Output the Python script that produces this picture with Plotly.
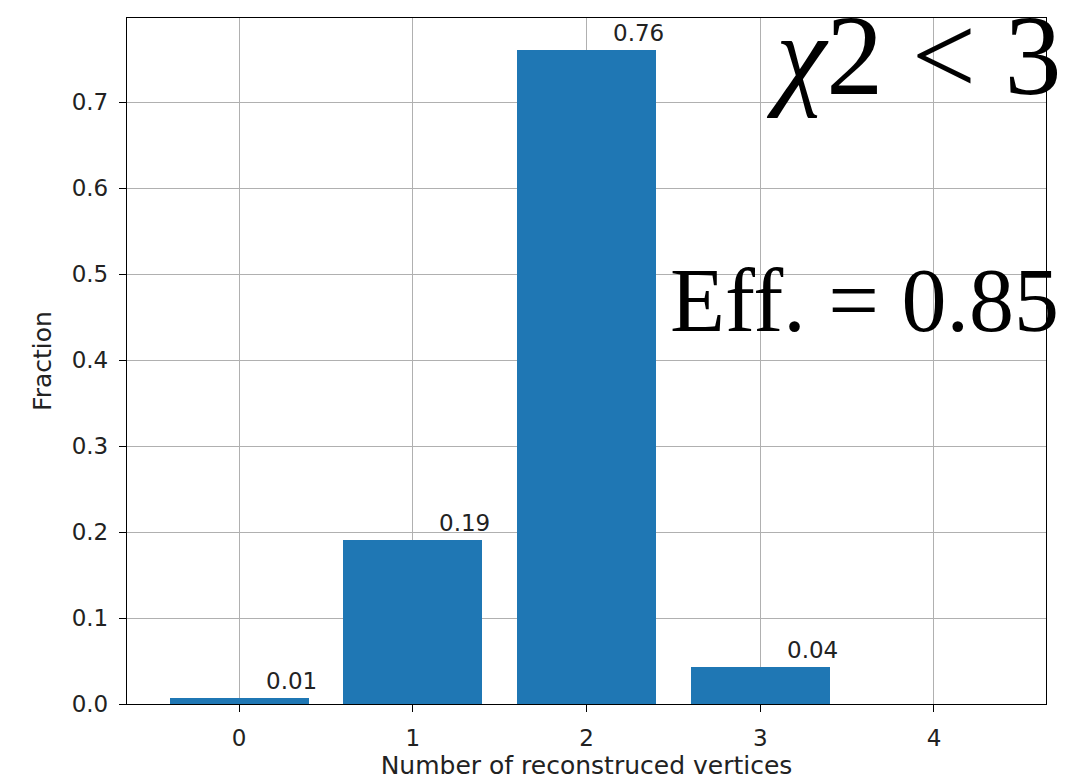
import plotly.graph_objects as go

categories = [0, 1, 2, 3, 4]
fractions = [0.007, 0.191, 0.761, 0.043, 0.0]
labels = ["0.01", "0.19", "0.76", "0.04", ""]
yticks = [0.0, 0.1, 0.2, 0.3, 0.4, 0.5, 0.6, 0.7]

fig = go.Figure()
fig.add_trace(go.Bar(x=categories, y=fractions, width=0.8,
                     marker=dict(color="#1f77b4", line=dict(width=0)),
                     showlegend=False))

for c, v, t in zip(categories, fractions, labels):
    if t:
        fig.add_annotation(x=c + 0.3, y=v + 0.002, text=t, showarrow=False,
                           xanchor="center", yanchor="bottom",
                           font=dict(family="DejaVu Sans", size=23, color="#222"))

fig.add_annotation(xref="paper", yref="paper", x=1.018, y=0.945,
                   text="<i>χ</i>2 &lt; 3", showarrow=False,
                   xanchor="right", yanchor="middle",
                   font=dict(family="Liberation Serif", size=114, color="black"))
fig.add_annotation(xref="paper", yref="paper", x=1.016, y=0.588,
                   text="Eff. = 0.85", showarrow=False,
                   xanchor="right", yanchor="middle",
                   font=dict(family="Liberation Serif", size=90, color="black"))

axis_common = dict(showline=True, linecolor="black", linewidth=1.3, mirror=True,
                   ticks="outside", ticklen=7, tickcolor="black", tickwidth=1.3,
                   showgrid=True, gridcolor="#b0b0b0", gridwidth=1, zeroline=False,
                   tickfont=dict(family="DejaVu Sans", size=23, color="#222"))

fig.update_xaxes(range=[-0.645, 4.645], tickvals=categories, ticklabelstandoff=6,
                 title=dict(text="Number of reconstruced vertices", standoff=6,
                            font=dict(family="DejaVu Sans", size=25, color="#222")),
                 **axis_common)
fig.update_yaxes(range=[0, 0.798], tickvals=yticks, ticklabelstandoff=6,
                 ticktext=[f"{v:.1f}" for v in yticks],
                 title=dict(text="Fraction", standoff=12,
                            font=dict(family="DejaVu Sans", size=25, color="#222")),
                 **axis_common)

fig.update_layout(width=1066, height=781,
                  margin=dict(l=119, r=28, t=10, b=85),
                  plot_bgcolor="white", paper_bgcolor="white", bargap=0)

fig.write_html("out.html")
